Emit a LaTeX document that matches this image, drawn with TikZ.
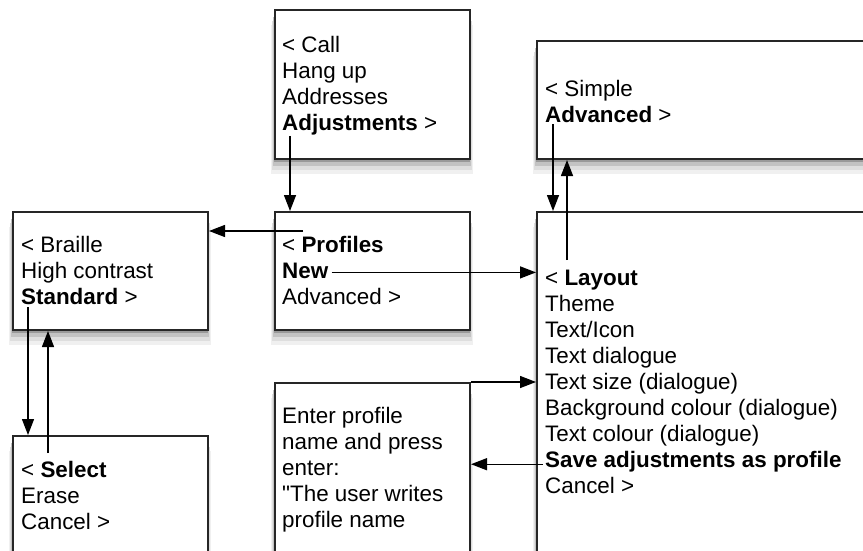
\documentclass[tikz,border=0pt]{standalone}
\usepackage{fontspec}
\setmainfont{Liberation Sans}[Ligatures=TeXOff]
\usetikzlibrary{arrows.meta}

\tikzset{
	screen/.style={draw=black!85, line width=2pt, fill=white, anchor=north west, inner sep=0pt},
	item/.style={anchor=base west, inner sep=0pt},
	arr/.style={-{Triangle[length=16pt,width=12pt]}, line width=1.4pt}
}
% screen with a soft shadow: name, x, y, width, height
\newcommand{\screenbox}[5]{
	\fill[black!6] (#2-3,#3+16) rectangle (#2+#4+4,#3+#5+16);
	\fill[black!13] (#2-2,#3+12) rectangle (#2+#4+3,#3+#5+12);
	\fill[black!24] (#2-1,#3+8) rectangle (#2+#4+2,#3+#5+8);
	\fill[black!40] (#2,#3+4) rectangle (#2+#4+1,#3+#5+4);
	\node[screen, minimum width=#4pt, minimum height=#5pt] (#1) at (#2,#3) {};
}

\begin{document}
\begin{tikzpicture}[x=1pt, y=-1pt, font=\fontsize{22.4}{26}\selectfont]
	% screens
	\screenbox{call}{274}{9}{195}{149}
	\screenbox{braille}{12}{211}{195}{118}
	\screenbox{prof}{274}{211}{195}{118}
	\screenbox{simple}{536}{40}{360}{118}
	\screenbox{layout}{536}{211}{400}{400}
	\screenbox{select}{12}{435}{195}{200}
	\screenbox{enter}{274}{382}{195}{250}
	% menu lines
	\node[item] (call1) at (282,53) {< Call};
	\node[item] (call2) at (282,79) {Hang up};
	\node[item] (call3) at (282,105) {Addresses};
	\node[item] (call4) at (282,131) {\textbf{Adjustments} >};
	\node[item] (brail1) at (21,252) {< Braille};
	\node[item] (brail2) at (21,278) {High contrast};
	\node[item] (brail3) at (21,304) {\textbf{Standard} >};
	\node[item] (prof1) at (282,252) {< \textbf{Profiles}};
	\node[item] (prof2) at (282,278) {\textbf{New}};
	\node[item] (prof3) at (282,304) {Advanced >};
	\node[item] (simp1) at (545,96) {< Simple};
	\node[item] (simp2) at (545,122) {\textbf{Advanced} >};
	\node[item] (lay1) at (545,285) {< \textbf{Layout}};
	\node[item] (lay2) at (545,311) {Theme};
	\node[item] (lay3) at (545,337) {Text/Icon};
	\node[item] (lay4) at (545,363) {Text dialogue};
	\node[item] (lay5) at (545,389) {Text size (dialogue)};
	\node[item] (lay6) at (545,415) {Background colour (dialogue)};
	\node[item] (lay7) at (545,441) {Text colour (dialogue)};
	\node[item] (lay8) at (545,467) {\textbf{Save adjustments as profile}};
	\node[item] (lay9) at (545,493) {Cancel >};
	\node[item] (ent1) at (282,423) {Enter profile};
	\node[item] (ent2) at (282,449) {name and press};
	\node[item] (ent3) at (282,475) {enter:};
	\node[item] (ent4) at (282,501) {"The user writes};
	\node[item] (ent5) at (282,527) {profile name};
	\node[item] (sel1) at (21,477) {< \textbf{Select}};
	\node[item] (sel2) at (21,503) {Erase};
	\node[item] (sel3) at (21,529) {Cancel >};
	% links
	\coordinate (a1) at ([xshift=8pt]call4.south west);
	\coordinate (a2) at (303,231);
	\coordinate (a3) at ([xshift=7pt,yshift=-3pt]brail3.south west);
	\coordinate (a4) at (48,453);
	\coordinate (a5) at ([xshift=8pt,yshift=-2pt]simp2.south west);
	\coordinate (a6) at (567,260);
	\coordinate (a7) at ([xshift=-2pt,yshift=-3pt]lay8.west);
	\draw[arr] (a1) -- (a1 |- prof.north);
	\draw[arr] (a2) -- (a2 -| braille.east);
	\draw[arr] ([xshift=3pt,yshift=-2pt]prof2.east) -- ([yshift=-2pt]prof2.east -| layout.west);
	\draw[arr] (a3) -- (a3 |- select.north);
	\draw[arr] (a4) -- (a4 |- braille.south);
	\draw[arr] (a5) -- (a5 |- layout.north);
	\draw[arr] (a6) -- (a6 |- simple.south);
	\draw[arr] (enter.north east) -- (enter.north east -| layout.west);
	\draw[arr] (a7) -- (a7 -| enter.east);
	\pgfresetboundingbox
	\useasboundingbox (0,0) rectangle (863,551);
\end{tikzpicture}
\end{document}
